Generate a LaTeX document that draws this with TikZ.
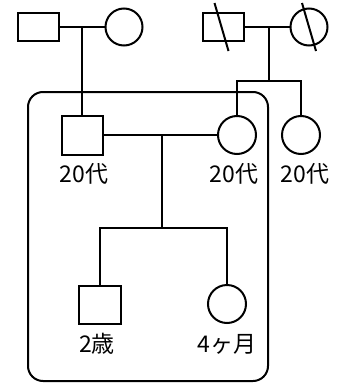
\documentclass[tikz,border=0pt]{standalone}
\usepackage{fontspec}
\newfontfamily\jpfont{Noto Sans CJK JP}
\usetikzlibrary{positioning,calc}

\begin{document}
\begin{tikzpicture}[x=1pt,y=-1pt,line width=2pt,
  male/.style={draw,rectangle,minimum width=41pt,minimum height=28pt,inner sep=0pt},
  female/.style={draw,circle,minimum size=37pt,inner sep=0pt},
  lbl/.style={font=\jpfont\fontsize{23}{23}\selectfont,inner sep=0pt}]
  \useasboundingbox (0,0) rectangle (338,383);
  % grandparents (husband side)
  \node[male] (gfa) at (38,27) {};
  \node[female] (gma) at (124,27) {};
  % grandparents (wife side), both deceased
  \node[male] (gfb) at (223.5,27) {};
  \node[female] (gmb) at (309,27) {};
  \draw ([shift={(-9,-24)}]gfb.center) -- ([shift={(5,24)}]gfb.center);
  \draw ([shift={(-7,-24)}]gmb.center) -- ([shift={(7,24)}]gmb.center);
  % household
  \draw[rounded corners=15pt] (28,92) rectangle (268,381);
  \node[male,minimum height=39pt] (husband) at (82,135) {};
  \node[female,minimum size=38pt] (wife) at (237,135) {};
  \node[female,minimum size=38pt] (sister) at (301,135) {};
  \node[male,minimum width=42pt,minimum height=38pt] (son) at (100,305) {};
  \node[female,minimum size=38pt] (daughter) at (227,304) {};
  % labels
  \node[lbl] (lhusband) at (84,174) {20代};
  \node[lbl] (lwife) at (234,174) {20代};
  \node[lbl] (lsister) at (305,174) {20代};
  \node[lbl] (lson) at (97,344) {2歳};
  \node[lbl] (ldaughter) at (227,344) {4ヶ月};
  % marriages and descent
  \coordinate (ma) at (82,27);
  \coordinate (mb) at (269,27);
  \coordinate (sib) at (269,81);
  \coordinate (mc) at (162,135);
  \coordinate (kids) at (162,228);
  \draw (gfa) -- (gma);
  \draw (ma) -- (husband.north);
  \draw (gfb) -- (gmb);
  \draw (mb) -- (sib);
  \draw (wife.north) |- (sib) -| (sister.north);
  \draw (husband) -- (wife);
  \draw (mc) -- (kids);
  \draw (son.north) |- (kids) -| (daughter.north);
\end{tikzpicture}
\end{document}
